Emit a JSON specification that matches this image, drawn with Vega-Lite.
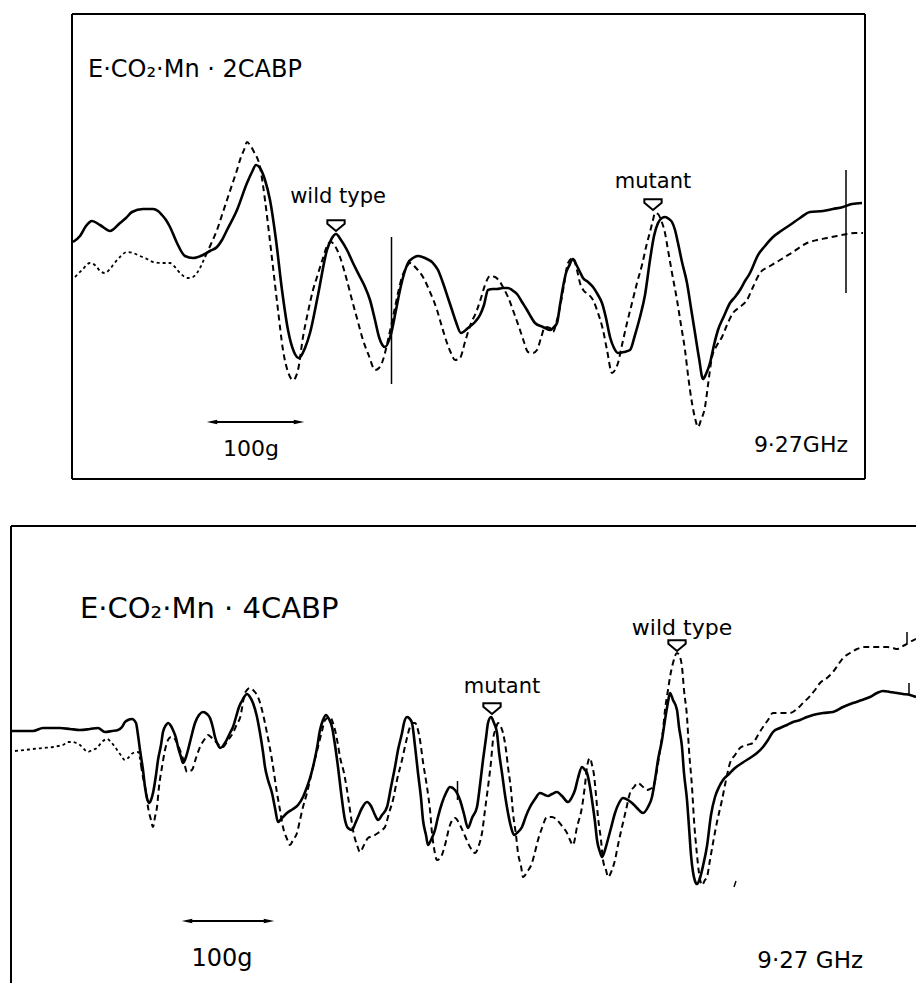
{
"$schema":"https://vega.github.io/schema/vega-lite/v6.json",
"width":916,"height":983,"padding":0,
"autosize":{"type":"none"},
"background":"white",
"config":{"view":{"stroke":null}},
"datasets":{
"p1s":[[73,242],[80,236],[86,226],[92,221],[100,225],[110,231],[120,223],[126,218],[132,212],[143,209],[153,209],[158,211],[162,215],[166,220],[170,227],[177,243],[185,256],[193,258],[203,255],[210,251],[217,247],[222,240],[227,230],[237,210],[247,183],[252,172],[256,165],[260,168],[265,180],[270,200],[276,240],[282,290],[288,330],[294,352],[299,358],[305,348],[310,333],[318,295],[327,250],[332,238],[336,234],[341,240],[347,250],[353,263],[360,277],[365,287],[370,300],[375,320],[379,337],[385,347],[391,334],[396,310],[400,290],[404,274],[408,263],[413,258],[418,256],[425,258],[433,263],[438,270],[443,283],[448,298],[452,310],[456,322],[461,333],[468,328],[475,322],[480,315],[484,305],[488,290],[493,289],[497,289],[503,288],[508,288],[512,290],[517,294],[522,302],[527,310],[531,317],[535,323],[543,327],[550,330],[554,327],[557,323],[560,305],[563,287],[566,273],[569,266],[573,259],[576,264],[579,270],[583,278],[588,282],[593,287],[598,295],[602,303],[606,318],[610,337],[614,348],[618,353],[624,352],[630,350],[635,335],[640,317],[645,295],[650,260],[654,236],[658,223],[662,218],[665,217],[669,219],[672,222],[675,230],[678,243],[682,262],[687,283],[691,308],[695,333],[699,358],[703,379],[706,374],[710,363],[714,345],[718,330],[724,316],[730,303],[735,297],[740,290],[745,281],[750,273],[754,264],[757,257],[765,246],[773,237],[781,231],[790,225],[800,218],[810,212],[823,211],[833,209],[843,207],[852,204],[862,203]],
"p1d":[[75,277],[82,270],[90,263],[96,266],[100,271],[105,273],[110,269],[113,265],[120,257],[127,252],[133,253],[140,256],[147,259],[153,262],[162,263],[170,263],[175,267],[180,273],[188,278],[193,277],[197,273],[201,266],[205,257],[211,244],[217,230],[222,215],[227,200],[232,185],[237,170],[241,157],[244,150],[247,142],[250,145],[254,152],[260,167],[265,200],[269,233],[273,267],[278,310],[283,350],[288,372],[293,380],[298,370],[303,337],[308,312],[313,290],[317,277],[323,258],[328,244],[331,242],[335,246],[340,257],[346,277],[352,300],[358,322],[363,340],[369,356],[375,370],[379,368],[383,360],[388,340],[393,317],[398,293],[402,277],[406,268],[410,263],[416,268],[423,277],[430,292],[437,310],[442,327],[447,343],[451,353],[455,360],[460,358],[465,342],[470,326],[477,310],[481,298],[485,285],[490,276],[495,277],[500,282],[504,289],[508,297],[514,313],[520,330],[524,342],[528,352],[533,353],[537,350],[541,338],[545,327],[550,328],[553,332],[557,320],[560,307],[564,285],[568,263],[573,258],[577,270],[580,283],[584,291],[588,294],[593,300],[598,313],[603,330],[607,350],[612,373],[615,370],[618,363],[622,345],[627,323],[632,303],[637,283],[642,265],[647,243],[650,232],[653,220],[655,213],[658,214],[661,220],[665,233],[668,250],[672,273],[677,300],[681,325],[685,350],[688,375],[692,403],[695,418],[698,427],[701,420],[705,407],[708,385],[712,357],[716,347],[722,337],[727,325],[733,313],[740,307],[747,300],[753,287],[760,273],[770,266],[780,260],[793,252],[807,243],[817,240],[827,238],[837,236],[847,234],[855,233],[863,233]],
"p2s":[[12,731],[22,731],[33,731],[43,728],[52,728],[60,728],[70,729],[80,730],[90,729],[98,728],[105,732],[112,731],[118,730],[122,727],[125,722],[128,720],[132,719],[136,723],[138,735],[140,750],[143,770],[145,787],[147,798],[149,803],[151,800],[153,793],[156,775],[158,760],[161,745],[163,732],[166,725],[168,723],[171,726],[173,730],[176,738],[178,747],[181,757],[183,763],[186,757],[188,750],[191,738],[195,723],[199,715],[203,712],[207,714],[210,718],[213,728],[215,737],[218,745],[220,748],[223,746],[225,743],[230,733],[233,727],[236,717],[239,707],[243,699],[247,694],[250,697],[253,703],[257,717],[260,733],[263,752],[265,767],[268,780],[272,793],[275,808],[278,822],[282,818],[287,813],[293,809],[298,805],[303,797],[307,787],[310,778],[313,767],[317,748],[320,730],[323,720],[326,715],[329,719],[332,727],[335,745],[338,767],[341,792],[345,820],[348,828],[352,830],[355,824],[358,817],[362,808],[367,802],[371,806],[375,815],[378,820],[382,815],[387,807],[391,787],[395,767],[398,750],[402,733],[404,723],[407,717],[409,718],[412,723],[415,746],[418,773],[421,798],[423,820],[426,835],[428,845],[431,840],[435,830],[438,817],[442,803],[446,793],[450,787],[455,790],[460,800],[464,814],[468,828],[472,818],[477,807],[480,785],[483,760],[486,738],[488,723],[491,717],[494,723],[497,733],[499,752],[502,773],[505,795],[508,813],[511,827],[514,835],[518,832],[522,827],[526,816],[530,807],[535,799],[540,793],[545,795],[548,796],[552,794],[557,792],[562,796],[568,802],[572,797],[575,790],[578,778],[582,767],[585,770],[587,773],[590,787],[592,800],[595,822],[597,840],[600,852],[602,857],[605,850],[607,843],[611,828],[615,813],[619,803],[623,798],[628,800],[632,803],[637,808],[643,813],[648,807],[652,797],[655,780],[658,760],[662,740],[665,720],[668,702],[670,693],[673,700],[677,710],[679,727],[682,747],[684,773],[687,800],[689,827],[691,855],[693,872],[695,881],[697,884],[700,878],[703,866],[707,846],[711,815],[715,797],[719,787],[723,780],[729,774],[735,768],[742,763],[750,758],[757,753],[763,747],[768,740],[773,732],[780,728],[787,725],[793,722],[800,720],[807,717],[813,715],[823,713],[833,712],[843,707],[853,703],[862,700],[870,697],[877,693],[883,691],[890,692],[897,693],[903,694],[910,695],[916,697]],
"p2d":[[15,751],[25,750],[33,749],[43,748],[53,747],[58,746],[63,745],[68,742],[72,742],[76,743],[80,745],[84,749],[88,752],[92,750],[97,748],[101,743],[107,739],[111,742],[115,747],[120,754],[125,760],[129,757],[133,753],[138,752],[141,765],[143,777],[146,792],[148,807],[151,820],[153,827],[155,817],[157,807],[159,787],[162,767],[165,750],[168,740],[171,737],[173,737],[177,743],[180,750],[184,762],[187,772],[190,771],[192,770],[196,758],[200,747],[204,740],[208,735],[212,738],[217,743],[220,746],[223,747],[228,740],[233,733],[237,724],[240,718],[245,693],[247,690],[250,688],[254,691],[258,697],[262,710],[267,733],[272,760],[277,793],[280,810],[283,827],[287,839],[290,845],[293,840],[297,833],[300,820],[303,807],[307,793],[310,780],[314,763],[318,747],[322,731],[325,720],[330,717],[333,723],[335,730],[338,745],[340,757],[344,773],[347,790],[350,810],[353,830],[357,845],[360,852],[364,845],[368,838],[373,836],[378,833],[382,830],[385,827],[389,813],[393,800],[397,780],[402,760],[406,742],[410,727],[413,723],[415,723],[418,730],[420,740],[423,762],[427,787],[430,810],[432,833],[434,848],[437,860],[441,857],[445,845],[450,825],[455,818],[460,825],[465,836],[470,847],[475,853],[479,845],[482,833],[485,810],[488,787],[491,762],[493,740],[496,728],[498,723],[501,727],[503,733],[506,750],[508,767],[511,790],[513,813],[516,835],[518,853],[521,866],[523,877],[527,872],[532,863],[535,852],[538,840],[542,828],[547,817],[552,817],[557,820],[562,826],[567,833],[570,840],[573,845],[577,827],[582,807],[585,785],[587,767],[590,758],[592,765],[594,775],[596,795],[598,817],[601,840],[603,860],[606,870],[608,877],[612,870],[615,860],[618,845],[622,827],[626,810],[630,793],[634,787],[638,783],[642,786],[647,790],[650,789],[653,787],[657,770],[660,750],[663,730],[665,710],[668,690],[670,677],[673,663],[677,653],[680,657],[682,667],[684,690],[687,717],[689,750],[692,787],[694,820],[697,855],[699,873],[702,885],[705,880],[707,877],[710,860],[713,843],[717,822],[722,800],[726,780],[730,763],[735,755],[740,748],[747,745],[753,743],[758,735],[763,727],[768,720],[773,713],[780,713],[790,713],[797,709],[803,703],[810,696],[815,690],[820,683],[827,678],[833,672],[838,665],[843,658],[850,653],[857,649],[865,647],[873,647],[880,647],[887,647],[893,648],[897,649],[901,647],[905,645],[910,642],[916,639]],
"segs":[
{"x":72,"x2":865,"y":14,"y2":14,"w":2},{"x":72,"x2":865,"y":479,"y2":479,"w":2},{"x":72,"x2":72,"y":14,"y2":479,"w":2},{"x":865,"x2":865,"y":14,"y2":479,"w":2},
{"x":11,"x2":916,"y":526,"y2":526,"w":2},{"x":11,"x2":11,"y":526,"y2":983,"w":2},
{"x":391.5,"x2":391.5,"y":237,"y2":384,"w":1.5},{"x":846,"x2":846,"y":170,"y2":293,"w":1.5},
{"x":457.5,"x2":457.5,"y":781,"y2":800,"w":1.5},{"x":909,"x2":909,"y":683,"y2":695,"w":1.5},{"x":907,"x2":907,"y":632,"y2":643,"w":1.5},
{"x":212,"x2":299,"y":422,"y2":422,"w":2},{"x":187,"x2":269,"y":921,"y2":921,"w":2},
{"x":734,"x2":736,"y":887,"y2":881,"w":1.5}],
"heads":[
{"x":212,"y":422,"sh":"M-1,0L1,-0.45L1,0.45Z"},{"x":299,"y":422,"sh":"M1,0L-1,-0.45L-1,0.45Z"},
{"x":187,"y":921,"sh":"M-1,0L1,-0.45L1,0.45Z"},{"x":269,"y":921,"sh":"M1,0L-1,-0.45L-1,0.45Z"}],
"marks":[{"x":336,"y":225},{"x":653,"y":204},{"x":492,"y":708},{"x":677,"y":645}],
"tleft":[
{"t":"E·CO₂·Mn · 2CABP","x":88,"y":77,"fs":24},
{"t":"E·CO₂·Mn · 4CABP","x":80,"y":618,"fs":29}],
"tcenter":[
{"t":"wild type","x":338,"y":203,"fs":21},
{"t":"mutant","x":653,"y":188,"fs":21},
{"t":"100g","x":251,"y":456,"fs":22},
{"t":"mutant","x":502,"y":693,"fs":21},
{"t":"wild type","x":682,"y":635,"fs":22},
{"t":"100g","x":222,"y":966,"fs":24}],
"tright":[
{"t":"9·27GHz","x":848,"y":452,"fs":22},
{"t":"9·27 GHz","x":863,"y":968,"fs":23}]
},
"layer":[
{"data":{"name":"segs"},"mark":{"type":"rule","color":"black","strokeCap":"butt"},
 "encoding":{"x":{"field":"x","type":"quantitative","scale":{"domain":[0,916],"nice":false,"zero":false},"axis":null},"x2":{"field":"x2"},
 "y":{"field":"y","type":"quantitative","scale":{"domain":[0,983],"reverse":true,"nice":false,"zero":false},"axis":null},"y2":{"field":"y2"},
 "strokeWidth":{"field":"w","type":"quantitative","scale":null}}},
{"data":{"name":"p1s"},"transform":[{"calculate":"datum[0]","as":"x"},{"calculate":"datum[1]","as":"y"}],
 "mark":{"type":"line","color":"black","strokeWidth":2.6,"interpolate":"monotone"},
 "encoding":{"x":{"field":"x","type":"quantitative"},"y":{"field":"y","type":"quantitative"}}},
{"data":{"name":"p2s"},"transform":[{"calculate":"datum[0]","as":"x"},{"calculate":"datum[1]","as":"y"}],
 "mark":{"type":"line","color":"black","strokeWidth":2.6,"interpolate":"monotone"},
 "encoding":{"x":{"field":"x","type":"quantitative"},"y":{"field":"y","type":"quantitative"}}},
{"data":{"name":"p1d"},"transform":[{"calculate":"datum[0]","as":"x"},{"calculate":"datum[1]","as":"y"},{"filter":"datum.x <= 205"}],
 "mark":{"type":"line","color":"black","strokeWidth":1.8,"strokeDash":[3,3],"interpolate":"monotone"},
 "encoding":{"x":{"field":"x","type":"quantitative"},"y":{"field":"y","type":"quantitative"}}},
{"data":{"name":"p1d"},"transform":[{"calculate":"datum[0]","as":"x"},{"calculate":"datum[1]","as":"y"},{"filter":"datum.x >= 205"}],
 "mark":{"type":"line","color":"black","strokeWidth":2,"strokeDash":[6,4],"interpolate":"monotone"},
 "encoding":{"x":{"field":"x","type":"quantitative"},"y":{"field":"y","type":"quantitative"}}},
{"data":{"name":"p2d"},"transform":[{"calculate":"datum[0]","as":"x"},{"calculate":"datum[1]","as":"y"},{"filter":"datum.x <= 141"}],
 "mark":{"type":"line","color":"black","strokeWidth":1.8,"strokeDash":[3,3],"interpolate":"monotone"},
 "encoding":{"x":{"field":"x","type":"quantitative"},"y":{"field":"y","type":"quantitative"}}},
{"data":{"name":"p2d"},"transform":[{"calculate":"datum[0]","as":"x"},{"calculate":"datum[1]","as":"y"},{"filter":"datum.x >= 141"}],
 "mark":{"type":"line","color":"black","strokeWidth":2,"strokeDash":[6,4],"interpolate":"monotone"},
 "encoding":{"x":{"field":"x","type":"quantitative"},"y":{"field":"y","type":"quantitative"}}},
{"data":{"name":"heads"},"mark":{"type":"point","filled":true,"color":"black","size":110,"opacity":1},
 "encoding":{"x":{"field":"x","type":"quantitative"},"y":{"field":"y","type":"quantitative"},"shape":{"field":"sh","type":"nominal","scale":null}}},
{"data":{"name":"marks"},"mark":{"type":"point","shape":"M-1,-0.55L1,-0.55L1,-0.15L0,0.7L-1,-0.15Z","fill":"white","stroke":"black","strokeWidth":2,"size":300,"opacity":1,"fillOpacity":1},
 "encoding":{"x":{"field":"x","type":"quantitative"},"y":{"field":"y","type":"quantitative"}}},
{"data":{"name":"tleft"},"mark":{"type":"text","font":"DejaVu Sans","baseline":"alphabetic","align":"left","color":"black"},
 "encoding":{"x":{"field":"x","type":"quantitative"},"y":{"field":"y","type":"quantitative"},"text":{"field":"t"},
 "size":{"field":"fs","type":"quantitative","scale":null}}},
{"data":{"name":"tcenter"},"mark":{"type":"text","font":"DejaVu Sans","baseline":"alphabetic","align":"center","color":"black"},
 "encoding":{"x":{"field":"x","type":"quantitative"},"y":{"field":"y","type":"quantitative"},"text":{"field":"t"},
 "size":{"field":"fs","type":"quantitative","scale":null}}},
{"data":{"name":"tright"},"mark":{"type":"text","font":"DejaVu Sans","baseline":"alphabetic","align":"right","color":"black"},
 "encoding":{"x":{"field":"x","type":"quantitative"},"y":{"field":"y","type":"quantitative"},"text":{"field":"t"},
 "size":{"field":"fs","type":"quantitative","scale":null}}}
]
}
